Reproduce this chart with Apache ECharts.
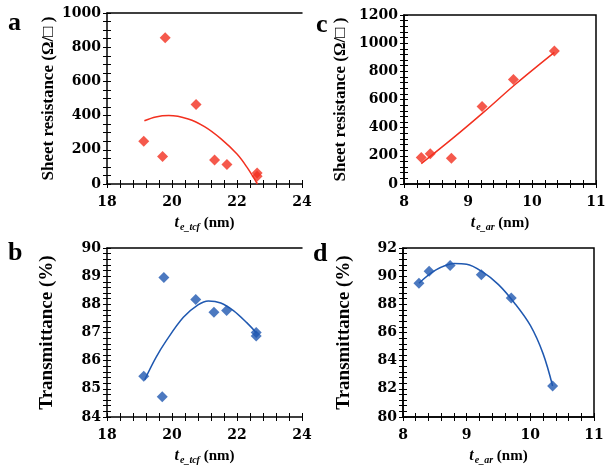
<!DOCTYPE html>
<html><head><meta charset="utf-8">
<script src="https://cdn.jsdelivr.net/npm/echarts@6/dist/echarts.min.js"></script>
<style>html,body{margin:0;padding:0;background:#fff}#c{width:610px;height:468px}</style>
</head><body><div id="c"></div>
<script>
// Panel a: sheet resistance vs t_e_tcf
const aPtsX = [19.13, 19.71, 19.79, 20.74, 21.31, 21.69, 22.62, 22.62];
const aPtsY = [250, 161, 855, 465, 140, 114, 65, 45];
const aFitX = [19.15, 19.5, 19.9, 20.5, 21.0, 21.5, 22.0, 22.3, 22.63];
const aFitY = [370, 392, 400, 380, 335, 265, 175, 100, 0];
// Panel b: transmittance vs t_e_tcf
const bPtsX = [19.13, 19.70, 19.75, 20.73, 21.29, 21.68, 22.59, 22.59];
const bPtsY = [85.45, 84.72, 88.95, 88.17, 87.72, 87.78, 87.0, 86.88];
const bFitX = [19.16, 19.5, 19.83, 20.35, 20.8, 21.12, 21.5, 21.89, 22.3, 22.6];
const bFitY = [85.32, 86.1, 86.72, 87.54, 87.98, 88.12, 88.05, 87.78, 87.35, 86.98];
// Panel c: sheet resistance vs t_e_ar
const cPtsX = [8.27, 8.41, 8.74, 9.22, 9.71, 10.35];
const cPtsY = [189, 215, 182, 550, 742, 945];
const cFitX = [8.27, 8.75, 9.25, 9.75, 10.35];
const cFitY = [145, 320, 512, 712, 935];
// Panel d: transmittance vs t_e_ar
const dPtsX = [8.25, 8.41, 8.74, 9.23, 9.70, 10.35];
const dPtsY = [89.5, 90.35, 90.75, 90.1, 88.45, 82.2];
const dFitX = [8.25, 8.5, 8.8, 9.0, 9.25, 9.5, 9.75, 10.0, 10.2, 10.35];
const dFitY = [89.5, 90.4, 90.9, 90.85, 90.3, 89.4, 88.1, 86.5, 84.5, 82.2];

const RED = '#f2301f', BLUE = '#1f58b0';
const pairs = (xs, ys) => xs.map((x, i) => [x, ys[i]]);

const boxes = [
  {left:107, top:13, width:195, height:171},
  {left:107, top:248, width:195, height:169},
  {left:404, top:15, width:192, height:169},
  {left:403, top:248, width:191, height:169}
];
const ranges = [
  {xmin:18, xmax:24, xint:2, xminor:5, ymin:0, ymax:1000, yint:200, yminor:4},
  {xmin:18, xmax:24, xint:2, xminor:5, ymin:84, ymax:90, yint:1, yminor:5},
  {xmin:8, xmax:11, xint:1, xminor:5, ymin:0, ymax:1200, yint:200, yminor:5},
  {xmin:8, xmax:11, xint:1, xminor:5, ymin:80, ymax:92, yint:2, yminor:5}
];
const lblFont = () => ({fontFamily:'DejaVu Serif', fontWeight:'bold', fontSize:14, color:'#000'});
const tickLine = () => ({color:'#000', width:1});
const plain = v => String(v);

// grids 0-3: plot areas; 4-7: thin strips across x axes (tick marks); 8-11: thin strips across y axes
const grids = boxes.map((b, g) => Object.assign({}, b, g >= 2 ? {show:true, borderColor:'#000', borderWidth:1.5} : {}));
boxes.forEach(b => grids.push({left:b.left, top:b.top + b.height - 4, width:b.width, height:8}));
boxes.forEach(b => grids.push({left:b.left - 4, top:b.top, width:8, height:b.height}));

function xName(sub){
  return {
    name: '{t|t}{s|' + sub + '}{n| (nm)}',
    nameLocation:'middle', nameGap:30,
    nameTextStyle:{rich:{
      t:{fontFamily:'Liberation Serif', fontStyle:'italic', fontWeight:'bold', fontSize:16, color:'#000'},
      s:{fontFamily:'Liberation Serif', fontStyle:'italic', fontWeight:'bold', fontSize:10, color:'#000', padding:[8,0,0,1]},
      n:{fontFamily:'Liberation Serif', fontWeight:'bold', fontSize:15, color:'#000'}
    }}
  };
}
function xAx(g, sub){
  const r = ranges[g];
  return Object.assign({
    type:'value', gridIndex:g, min:r.xmin, max:r.xmax, interval:r.xint,
    axisLine:{show:true, onZero:false, lineStyle:{color:'#000', width:1.5}},
    axisTick:{show:false}, minorTick:{show:false},
    splitLine:{show:false},
    axisLabel:Object.assign({margin:11, formatter:plain}, lblFont())
  }, xName(sub));
}
function yAx(g, name, gap, fs){
  const r = ranges[g];
  return {
    type:'value', gridIndex:g, min:r.ymin, max:r.ymax, interval:r.yint,
    name, nameLocation:'middle', nameGap:gap,
    nameTextStyle:{fontFamily:'Liberation Serif', fontWeight:'bold', fontSize:fs, color:'#000'},
    axisLine:{show:true, onZero:false, lineStyle:{color:'#000', width:1.5}},
    axisTick:{show:false}, minorTick:{show:false},
    splitLine:{show:false},
    axisLabel:Object.assign({margin:6, formatter:plain}, lblFont())
  };
}
function topAx(g){
  const r = ranges[g];
  return {type:'value', gridIndex:g, position:'top', min:r.xmin, max:r.xmax,
    axisLine:{show:true, onZero:false, lineStyle:{color:'#000', width:1.5}},
    axisTick:{show:false}, axisLabel:{show:false}, splitLine:{show:false}};
}
// tick strip axes: split lines inside a thin strip form the crossing tick marks
function xTicks(g){
  const r = ranges[g];
  return {type:'value', gridIndex:4 + g, min:r.xmin, max:r.xmax, interval:r.xint,
    axisLine:{show:false}, axisTick:{show:false}, axisLabel:{show:false},
    minorTick:{show:false, splitNumber:r.xminor},
    splitLine:{show:true, lineStyle:tickLine()},
    minorSplitLine:{show:true, lineStyle:tickLine()}};
}
function yTicks(g){
  const r = ranges[g];
  return {type:'value', gridIndex:8 + g, min:r.ymin, max:r.ymax, interval:r.yint,
    axisLine:{show:false}, axisTick:{show:false}, axisLabel:{show:false},
    minorTick:{show:false, splitNumber:r.yminor},
    splitLine:{show:true, lineStyle:tickLine()},
    minorSplitLine:{show:true, lineStyle:tickLine()}};
}
const dummy = gi => ({type:'value', gridIndex:gi, min:0, max:1, show:false});

// x: 0-3 main, 4-5 top frame, 6-9 x tick strips, 10-13 dummies for y strips
const xAxes = [
  xAx(0, 'e_tcf'), xAx(1, 'e_tcf'), xAx(2, 'e_ar'), xAx(3, 'e_ar'),
  topAx(0), topAx(1),
  xTicks(0), xTicks(1), xTicks(2), xTicks(3),
  dummy(8), dummy(9), dummy(10), dummy(11)
];
// y: 0-3 main, 4-7 dummies for x strips, 8-11 y tick strips
const yAxes = [
  yAx(0, 'Sheet resistance (Ω/□ )', 50, 17),
  yAx(1, 'Transmittance (%)', 50, 19),
  yAx(2, 'Sheet resistance (Ω/□ )', 55, 17),
  yAx(3, 'Transmittance (%)', 49, 19),
  dummy(4), dummy(5), dummy(6), dummy(7),
  yTicks(0), yTicks(1), yTicks(2), yTicks(3)
];

function scat(i, data, color){
  return {type:'scatter', xAxisIndex:i, yAxisIndex:i, data, symbol:'diamond', symbolSize:11,
    itemStyle:{color}, z:3, silent:true};
}
function fit(i, data, color){
  return {type:'line', xAxisIndex:i, yAxisIndex:i, data, smooth:0.35, symbol:'none',
    lineStyle:{color, width:1.5}, z:2, silent:true};
}
const series = [
  fit(0, pairs(aFitX, aFitY), RED), scat(0, pairs(aPtsX, aPtsY), RED),
  fit(1, pairs(bFitX, bFitY), BLUE), scat(1, pairs(bPtsX, bPtsY), BLUE),
  fit(2, pairs(cFitX, cFitY), RED), scat(2, pairs(cPtsX, cPtsY), RED),
  fit(3, pairs(dFitX, dFitY), BLUE), scat(3, pairs(dPtsX, dPtsY), BLUE)
];

const letterStyle = () => ({fontFamily:'Liberation Serif', fontWeight:'bold', fontSize:26, fill:'#000'});
const graphic = [
  {type:'text', left:8, top:10, style:Object.assign({text:'a'}, letterStyle())},
  {type:'text', left:8, top:240, style:Object.assign({text:'b'}, letterStyle())},
  {type:'text', left:316, top:12, style:Object.assign({text:'c'}, letterStyle())},
  {type:'text', left:313, top:241, style:Object.assign({text:'d'}, letterStyle())}
];

const chart = echarts.init(document.getElementById('c'), null, {renderer:'canvas'});
chart.setOption({
  animation:false, backgroundColor:'#fff',
  grid:grids, xAxis:xAxes, yAxis:yAxes, series, graphic
});
</script></body></html>
